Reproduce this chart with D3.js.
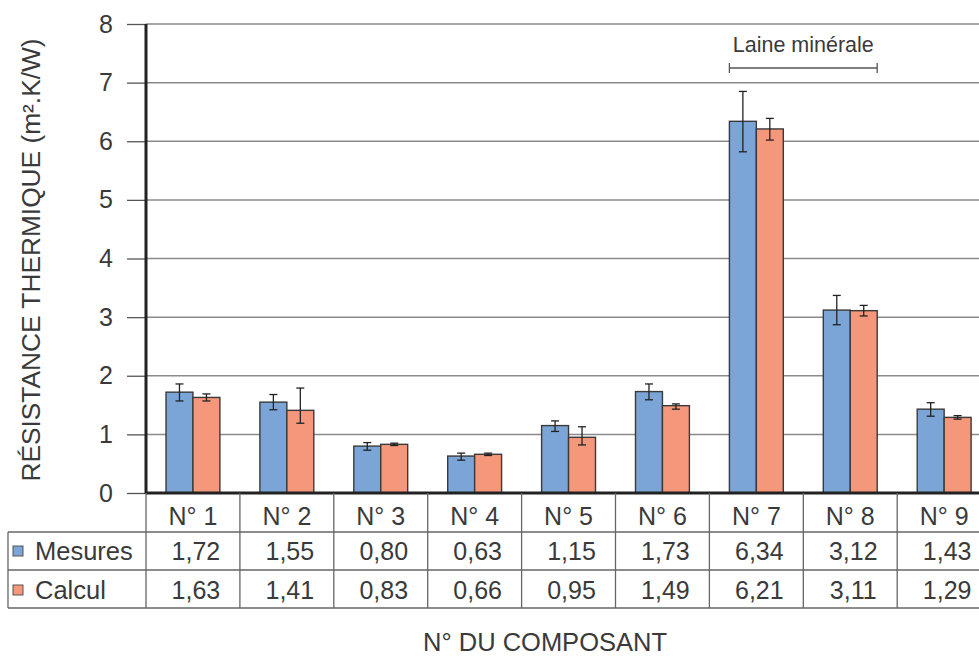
<!DOCTYPE html>
<html>
<head>
<meta charset="utf-8">
<script src="https://cdn.jsdelivr.net/npm/d3@7"></script>
<style>
  html, body { margin: 0; padding: 0; background: #fff; }
  svg { display: block; }
  text { font-family: "Liberation Sans", Arial, sans-serif; fill: #3a3a3a; }
</style>
</head>
<body>
<svg id="chart" width="979" height="656"></svg>
<script>
// Résistance thermique par composant : mesures et calcul
const categories = ["N° 1", "N° 2", "N° 3", "N° 4", "N° 5", "N° 6", "N° 7", "N° 8", "N° 9"];
const series = ["Mesures", "Calcul"];
const mesures = [1.72, 1.55, 0.80, 0.63, 1.15, 1.73, 6.34, 3.12, 1.43];
const calcul  = [1.63, 1.41, 0.83, 0.66, 0.95, 1.49, 6.21, 3.11, 1.29];
// Bornes des barres d'erreur (écart au-dessus / au-dessous de la valeur)
const mesuresErrUp   = [0.14, 0.13, 0.06, 0.05, 0.08, 0.13, 0.51, 0.25, 0.11];
const mesuresErrDown = [0.15, 0.13, 0.07, 0.07, 0.10, 0.14, 0.52, 0.25, 0.12];
const calculErrUp    = [0.06, 0.38, 0.02, 0.02, 0.18, 0.03, 0.18, 0.09, 0.03];
const calculErrDown  = [0.06, 0.22, 0.02, 0.02, 0.13, 0.06, 0.19, 0.09, 0.03];
const yTicks = [0, 1, 2, 3, 4, 5, 6, 7, 8];
const colors = { "Mesures": "#7ba4d7", "Calcul": "#f5977a" };
const annotation = { label: "Laine minérale", from: "N° 7", to: "N° 8" };

const svg = d3.select("#chart");
const W = 979;
const plotLeft = 146, plotTop = 24, plotBase = 493;
const bandW = 93.9;

const x = d3.scaleBand().domain(categories).range([plotLeft, plotLeft + bandW * categories.length]).padding(0);
const x1 = d3.scaleBand().domain(series).range([20, x.bandwidth() - 20]).padding(0);
const y = d3.scaleLinear().domain([0, 8]).range([plotBase, plotTop]);

const rows = series.map(s => ({
  name: s,
  values: s === "Mesures" ? mesures : calcul,
  up: s === "Mesures" ? mesuresErrUp : calculErrUp,
  down: s === "Mesures" ? mesuresErrDown : calculErrDown
}));

// Grille horizontale et graduations
const yAxis = d3.axisLeft(y).tickValues(yTicks).tickSize(19).tickPadding(14).tickFormat(d3.format("d"));
const gy = svg.append("g").attr("transform", `translate(${plotLeft},0)`).call(yAxis);
gy.select(".domain").remove();
gy.selectAll(".tick line").attr("stroke", "#555").attr("stroke-width", 1.3);
gy.selectAll(".tick text").style("font-size", "25px").attr("fill", "#3a3a3a")
  .style("font-family", "'Liberation Sans', Arial, sans-serif");

svg.append("g").selectAll("line").data(yTicks.filter(d => d > 0)).join("line")
  .attr("x1", plotLeft).attr("x2", W)
  .attr("y1", d => y(d)).attr("y2", d => y(d))
  .attr("stroke", "#8a8a8a").attr("stroke-width", 1.5);

// Barres
const groups = svg.append("g").selectAll("g").data(rows).join("g");
groups.selectAll("rect").data(r => r.values.map((v, i) => ({ s: r.name, v, c: categories[i] }))).join("rect")
  .attr("x", d => x(d.c) + x1(d.s))
  .attr("y", d => y(d.v))
  .attr("width", x1.bandwidth())
  .attr("height", d => y(0) - y(d.v))
  .attr("fill", d => colors[d.s])
  .attr("stroke", "#3a3a3a").attr("stroke-width", 1.4);

// Barres d'erreur
const errs = [];
rows.forEach(r => r.values.forEach((v, i) => errs.push({
  s: r.name, c: categories[i], hi: v + r.up[i], lo: v - r.down[i]
})));
const eg = svg.append("g").attr("stroke", "#222").attr("stroke-width", 1.3);
const cx = d => x(d.c) + x1(d.s) + x1.bandwidth() / 2;
eg.selectAll("line.v").data(errs).join("line").attr("class", "v")
  .attr("x1", cx).attr("x2", cx).attr("y1", d => y(d.hi)).attr("y2", d => y(d.lo));
eg.selectAll("line.t").data(errs).join("line").attr("class", "t")
  .attr("x1", d => cx(d) - 4).attr("x2", d => cx(d) + 4).attr("y1", d => y(d.hi)).attr("y2", d => y(d.hi));
eg.selectAll("line.b").data(errs).join("line").attr("class", "b")
  .attr("x1", d => cx(d) - 4).attr("x2", d => cx(d) + 4).attr("y1", d => y(d.lo)).attr("y2", d => y(d.lo));

// Axes principaux
svg.append("line").attr("x1", plotLeft).attr("x2", plotLeft).attr("y1", y(8)).attr("y2", plotBase + 1)
  .attr("stroke", "#222").attr("stroke-width", 3);
svg.append("line").attr("x1", plotLeft).attr("x2", W).attr("y1", plotBase).attr("y2", plotBase)
  .attr("stroke", "#222").attr("stroke-width", 3);

// Accolade "Laine minérale"
const ax1 = x(annotation.from) + x1("Mesures");
const ax2 = x(annotation.to) + x1("Calcul") + x1.bandwidth();
const ay = 68;
const ag = svg.append("g").attr("stroke", "#555").attr("stroke-width", 1.3);
ag.append("line").attr("x1", ax1).attr("x2", ax2).attr("y1", ay).attr("y2", ay);
ag.append("line").attr("x1", ax1).attr("x2", ax1).attr("y1", ay - 5).attr("y2", ay + 5);
ag.append("line").attr("x1", ax2).attr("x2", ax2).attr("y1", ay - 5).attr("y2", ay + 5);
svg.append("text").attr("x", (ax1 + ax2) / 2).attr("y", 52).attr("text-anchor", "middle")
  .style("font-size", "21.5px").text(annotation.label);

// Tableau des valeurs
const rowTop = [plotBase, 532, 570, 608];
const tg = svg.append("g").attr("stroke", "#666").attr("stroke-width", 1.3);
tg.append("line").attr("x1", 8).attr("x2", W).attr("y1", rowTop[1]).attr("y2", rowTop[1]);
tg.append("line").attr("x1", 8).attr("x2", W).attr("y1", rowTop[2]).attr("y2", rowTop[2]);
tg.append("line").attr("x1", 8).attr("x2", W).attr("y1", rowTop[3]).attr("y2", rowTop[3]);
tg.append("line").attr("x1", 8).attr("x2", 8).attr("y1", rowTop[1]).attr("y2", rowTop[3]);
tg.append("line").attr("x1", plotLeft).attr("x2", plotLeft).attr("y1", plotBase).attr("y2", rowTop[3]);
tg.selectAll("line.col").data(categories.slice(1)).join("line").attr("class", "col")
  .attr("x1", d => x(d)).attr("x2", d => x(d)).attr("y1", plotBase).attr("y2", rowTop[3]);

const fmt = v => v.toFixed(2).replace(".", ",");
svg.append("g").selectAll("text").data(categories).join("text")
  .attr("x", d => x(d) + x.bandwidth() / 2).attr("y", 525)
  .attr("text-anchor", "middle").style("font-size", "25px").text(d => d);

rows.forEach((r, k) => {
  const yText = [560, 599][k];
  const g = svg.append("g");
  g.selectAll("text").data(r.values).join("text")
    .attr("x", (d, i) => x(categories[i]) + x.bandwidth() / 2 + 3).attr("y", yText)
    .attr("text-anchor", "middle").style("font-size", "25px").text(fmt);
  g.append("rect").attr("x", 13).attr("y", yText - 14).attr("width", 10).attr("height", 10)
    .attr("fill", colors[r.name]).attr("stroke", "#555").attr("stroke-width", 1);
  g.append("text").attr("x", 35).attr("y", yText).style("font-size", "25.5px").text(r.name);
});

// Titres des axes
svg.append("text").attr("x", 545).attr("y", 651).attr("text-anchor", "middle")
  .style("font-size", "25.5px").text("N° DU COMPOSANT");
svg.append("text").attr("transform", `translate(40,260) rotate(-90)`).attr("text-anchor", "middle")
  .style("font-size", "26.3px").text("RÉSISTANCE THERMIQUE (m².K/W)");
</script>
</body>
</html>
